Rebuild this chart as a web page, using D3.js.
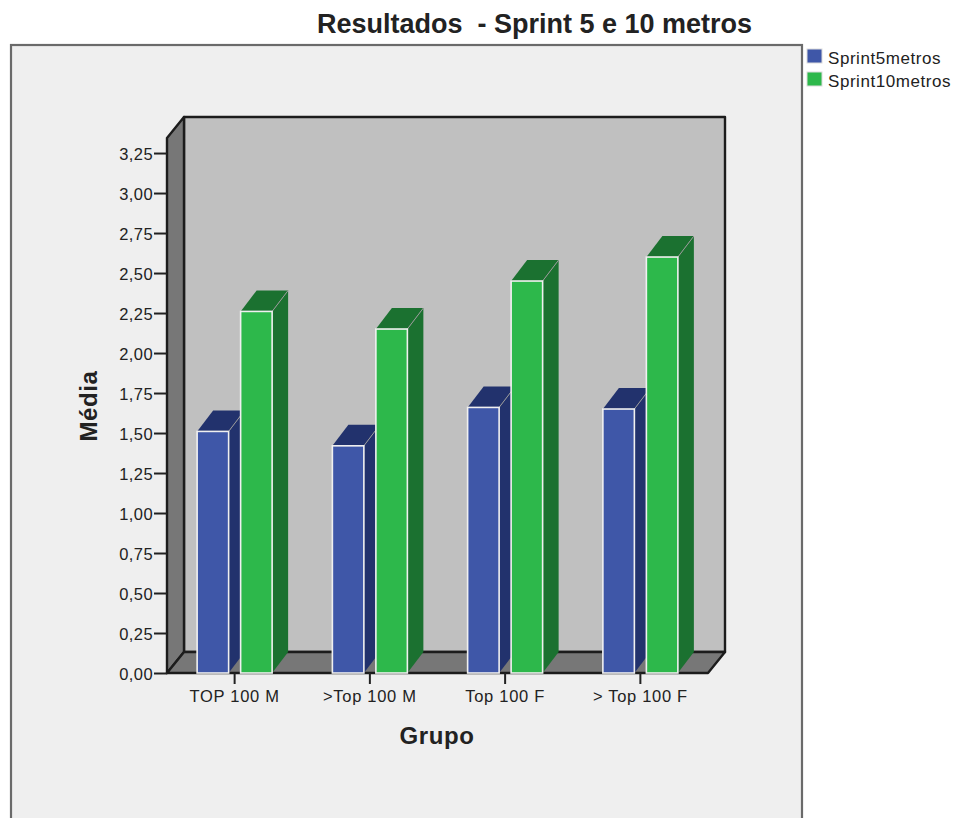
<!DOCTYPE html>
<html>
<head>
<meta charset="utf-8">
<script src="https://cdn.jsdelivr.net/npm/d3@7/dist/d3.min.js"></script>
<style>
  html, body { margin: 0; padding: 0; background: #fff; }
  svg { display: block; }
  text { font-family: "Liberation Sans", Arial, sans-serif; fill: #222; }
</style>
</head>
<body>
<svg id="chart" width="955" height="818"></svg>
<script>
// Mean sprint times per group
const groups = ["TOP 100 M", ">Top 100 M", "Top 100 F", "> Top 100 F"];
const seriesNames = ["Sprint5metros", "Sprint10metros"];
const sprint5 = [1.51, 1.42, 1.66, 1.65];
const sprint10 = [2.26, 2.15, 2.45, 2.60];
const yTicks = [0, 0.25, 0.5, 0.75, 1, 1.25, 1.5, 1.75, 2, 2.25, 2.5, 2.75, 3, 3.25];
const seriesValues = [sprint5, sprint10];

const faceColors = ["#3f57a8", "#2db84b"];
const sideColors = ["#22326d", "#1b7130"];

// Oblique projection used for the 3D box and the bars
const depthX = 17, depthY = 21;
const plot = { left: 167, right: 708, bottom: 673, top: 138 };

const svg = d3.select("#chart");
const y = d3.scaleLinear().domain([0, 3.344]).range([plot.bottom, plot.top]);
const x = d3.scaleBand().domain(groups).range([plot.left, plot.right]);
const inner = d3.scaleBand().domain(d3.range(seriesNames.length))
  .range([x.bandwidth() / 2 - 37.5, x.bandwidth() / 2 + 37.5]).paddingInner(0.276);

const poly = pts => pts.map(p => p.join(",")).join(" ");

// Outer panel, open at the bottom edge of the page
svg.append("rect").attr("x", 11).attr("y", 45).attr("width", 791).attr("height", 800)
  .attr("fill", "#efefef").attr("stroke", "#6a6a6a").attr("stroke-width", 2.2);

// Back wall, side wall and floor of the box
const box = svg.append("g").attr("stroke", "#1c1c1c").attr("stroke-width", 2.4).attr("stroke-linejoin", "round");
box.append("rect")
  .attr("x", plot.left + depthX).attr("y", plot.top - depthY)
  .attr("width", plot.right - plot.left).attr("height", plot.bottom - plot.top)
  .attr("fill", "#c0c0c0");
box.append("polygon").attr("fill", "#777").attr("points", poly([
  [plot.left, plot.top], [plot.left + depthX, plot.top - depthY],
  [plot.left + depthX, plot.bottom - depthY], [plot.left, plot.bottom]
]));
box.append("polygon").attr("fill", "#777").attr("points", poly([
  [plot.left, plot.bottom], [plot.left + depthX, plot.bottom - depthY],
  [plot.right + depthX, plot.bottom - depthY], [plot.right, plot.bottom]
]));

// Bars: top and side faces first, then the front face
const barGroups = svg.selectAll("g.group").data(groups).join("g")
  .attr("class", "group")
  .attr("transform", d => `translate(${x(d)},0)`);

seriesValues.forEach((values, s) => {
  const w = inner.bandwidth();
  const bar = barGroups.append("g").datum((d, i) => values[i]);
  bar.append("polygon")
    .attr("fill", sideColors[s])
    .attr("points", v => {
      const l = inner(s);
      return poly([[l, y(v)], [l + depthX - 1, y(v) - depthY], [l + w + depthX - 1, y(v) - depthY], [l + w, y(v)]]);
    });
  bar.append("polygon")
    .attr("fill", sideColors[s])
    .attr("points", v => {
      const r = inner(s) + w;
      return poly([[r, y(v)], [r + depthX - 1, y(v) - depthY], [r + depthX - 1, y(0) - depthY], [r, y(0)]]);
    });
  bar.append("line")
    .attr("x1", inner(s) + w).attr("x2", inner(s) + w + depthX - 1)
    .attr("y1", v => y(v)).attr("y2", v => y(v) - depthY)
    .attr("stroke", "#9a9a9a").attr("stroke-width", 1);
  bar.append("rect")
    .attr("x", inner(s)).attr("width", w)
    .attr("y", v => y(v)).attr("height", v => y(0) - y(v))
    .attr("fill", faceColors[s]).attr("stroke", "#f0f0f0").attr("stroke-width", 1.6);
});

// Value axis
const commaFormat = d3.formatLocale({ decimal: ",", thousands: ".", grouping: [3], currency: ["", ""] }).format(".2f");
const yAxis = svg.append("g").attr("transform", `translate(${plot.left},0)`)
  .call(d3.axisLeft(y).tickValues(yTicks).tickFormat(commaFormat).tickSize(13).tickPadding(1));
yAxis.select(".domain").remove();
yAxis.selectAll("line").attr("stroke", "#222").attr("stroke-width", 2);
yAxis.selectAll("text").attr("font-size", 16.5).attr("fill", "#2a2a2a").attr("letter-spacing", 0.4)
  .attr("dy", "0.42em");

// Category axis
const xAxis = svg.append("g").attr("transform", `translate(0,${plot.bottom})`)
  .call(d3.axisBottom(x).tickSize(11).tickPadding(6));
xAxis.select(".domain").remove();
xAxis.selectAll("line").attr("stroke", "#222").attr("stroke-width", 2);
xAxis.selectAll("text").attr("font-size", 16.5).attr("fill", "#2a2a2a").attr("letter-spacing", 0.7);

// Title and axis titles
svg.append("text").attr("x", 534.5).attr("y", 33).attr("text-anchor", "middle")
  .attr("font-size", 27).attr("font-weight", "bold").attr("fill", "#111")
  .style("white-space", "pre").text("Resultados  - Sprint 5 e 10 metros");
svg.append("text").attr("x", 437).attr("y", 744).attr("text-anchor", "middle")
  .attr("font-size", 24).attr("font-weight", "bold").attr("fill", "#111").attr("letter-spacing", 0.6).text("Grupo");
svg.append("text").attr("transform", "translate(97,406) rotate(-90)").attr("text-anchor", "middle")
  .attr("font-size", 24).attr("font-weight", "bold").attr("fill", "#111").attr("letter-spacing", 0.6).text("Média");

// Legend
const legend = svg.selectAll("g.legend").data(seriesNames).join("g")
  .attr("class", "legend")
  .attr("transform", (d, i) => `translate(807,${49 + i * 23})`);
legend.append("rect").attr("width", 15).attr("height", 14)
  .attr("fill", (d, i) => faceColors[i]).attr("stroke", "#dcdcdc").attr("stroke-width", 1);
legend.append("text").attr("x", 21).attr("y", 15).attr("font-size", 17)
  .attr("letter-spacing", 0.55).attr("fill", "#2a2a2a").text(d => d);
</script>
</body>
</html>
